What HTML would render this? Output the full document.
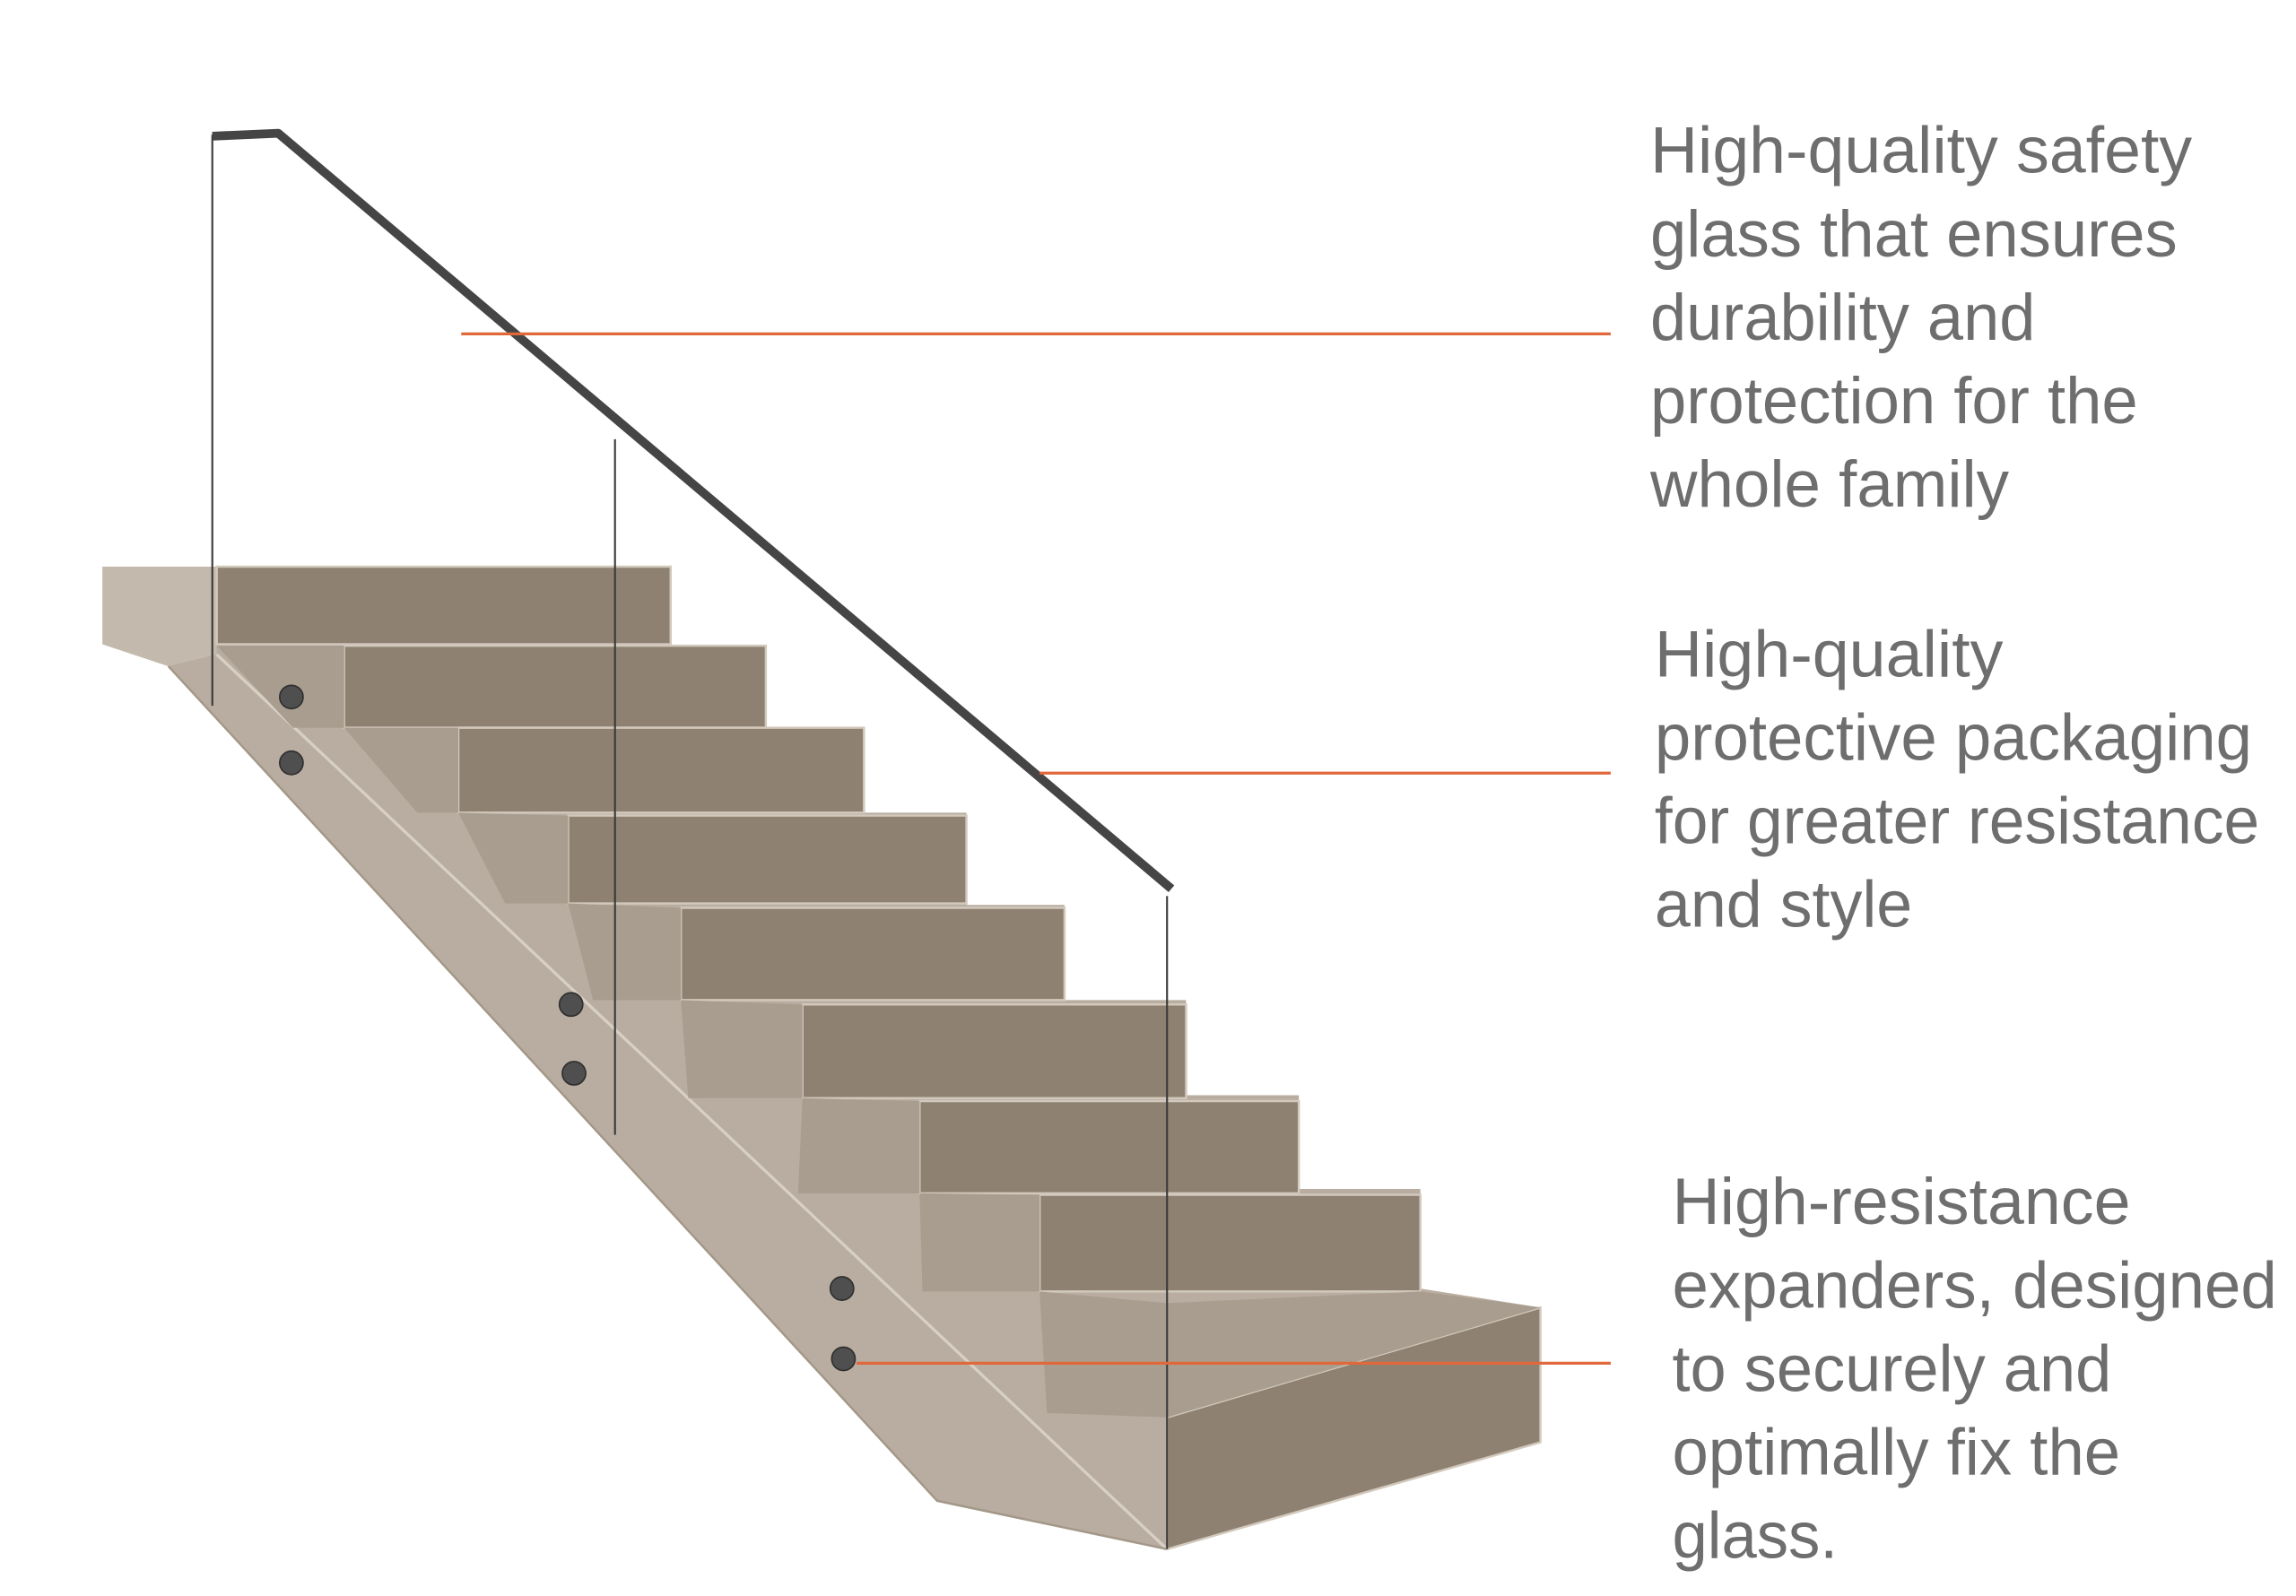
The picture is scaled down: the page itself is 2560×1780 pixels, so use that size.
<!DOCTYPE html>
<html><head><meta charset="utf-8"><style>
html,body{margin:0;padding:0;background:#fff;}
svg{display:block;}
text{font-family:"Liberation Sans",sans-serif;fill:#6e6e6e;font-size:45px;}
</style></head><body>
<svg width="2560" height="1780" viewBox="0 0 1568 1090" preserveAspectRatio="none" xmlns="http://www.w3.org/2000/svg">
<rect width="1568" height="1090" fill="#fff"/>
<polygon fill="#b8ada0" points="70,387 458,387 458,441 523,441 523,497 590,497 590,555 660,555 660,618 727,618 727,683 810,683 810,748 887,748 887,812 970,812 970,880 1052,893 1052,985 797,1058 640,1025 115,455 70,440"/>
<polygon fill="#c3b9ac" points="70,387 148,387 148,447 115,455 70,440"/>
<polyline fill="none" stroke="#d8d0c4" stroke-width="2" points="148,447 797,1058"/>
<polyline fill="none" stroke="#a39888" stroke-width="1.5" points="115,455 640,1025 797,1058"/>
<g fill="#8e8172" stroke="#d2c9bc" stroke-width="1.5">
<rect x="148" y="387" width="310" height="53"/>
<rect x="235" y="441" width="288" height="56"/>
<rect x="313" y="497" width="277" height="58"/>
<rect x="388" y="557" width="272" height="60"/>
<rect x="465" y="620" width="262" height="63"/>
<rect x="548" y="686" width="262" height="64"/>
<rect x="628" y="752" width="259" height="63"/>
<rect x="710" y="816" width="260" height="66"/>
<polygon points="797,968 1052,893 1052,985 797,1058"/>
</g>
<g fill="#a89d8f">
<polygon points="148,441 235,441 235,497 200,497"/>
<polygon points="235,497 313,497 313,555 285,555"/>
<polygon points="313,555 388,557 388,617 345,617"/>
<polygon points="388,617 465,620 465,683 405,683"/>
<polygon points="465,683 548,686 548,750 470,750"/>
<polygon points="548,750 628,752 628,815 545,815"/>
<polygon points="628,815 710,816 710,882 630,882"/>
<polygon points="710,882 797,890 797,968 715,965"/>
<polygon points="797,890 970,882 1052,893 797,968"/>
</g>
<g fill="#4f4f4f" stroke="#2e2e2e" stroke-width="1">
<circle cx="199" cy="476" r="8"/><circle cx="199" cy="521" r="8"/>
<circle cx="390" cy="686" r="8"/><circle cx="392" cy="733" r="8"/>
<circle cx="575" cy="880" r="8"/><circle cx="576" cy="928" r="8"/>
</g>
<g stroke="#3a3a3a" stroke-width="1.3">
<line x1="145" y1="92" x2="145" y2="482"/>
<line x1="420" y1="300" x2="420" y2="775"/>
<line x1="797" y1="612" x2="797" y2="1058"/>
</g>
<polyline fill="none" stroke="#454545" stroke-width="6" stroke-linejoin="round" points="145,93 190,91 800,607"/>
<g stroke="#e0683a" stroke-width="2">
<line x1="315" y1="228" x2="1100" y2="228"/>
<line x1="710" y1="528" x2="1100" y2="528"/>
<line x1="585" y1="931" x2="1100" y2="931"/>
</g>
<text x="1127" y="118" textLength="370" lengthAdjust="spacingAndGlyphs">High-quality safety</text>
<text x="1127" y="175" textLength="360" lengthAdjust="spacingAndGlyphs">glass that ensures</text>
<text x="1127" y="232" textLength="263" lengthAdjust="spacingAndGlyphs">durability and</text>
<text x="1127" y="289" textLength="333" lengthAdjust="spacingAndGlyphs">protection for the</text>
<text x="1127" y="346" textLength="245" lengthAdjust="spacingAndGlyphs">whole family</text>
<text x="1130" y="462" textLength="238" lengthAdjust="spacingAndGlyphs">High-quality</text>
<text x="1130" y="519" textLength="408" lengthAdjust="spacingAndGlyphs">protective packaging</text>
<text x="1130" y="576" textLength="413" lengthAdjust="spacingAndGlyphs">for greater resistance</text>
<text x="1130" y="633" textLength="176" lengthAdjust="spacingAndGlyphs">and style</text>
<text x="1142" y="836" textLength="313" lengthAdjust="spacingAndGlyphs">High-resistance</text>
<text x="1142" y="893" textLength="413" lengthAdjust="spacingAndGlyphs">expanders, designed</text>
<text x="1142" y="950" textLength="300" lengthAdjust="spacingAndGlyphs">to securely and</text>
<text x="1142" y="1007" textLength="306" lengthAdjust="spacingAndGlyphs">optimally fix the</text>
<text x="1142" y="1064" textLength="113" lengthAdjust="spacingAndGlyphs">glass.</text>
</svg>
</body></html>
